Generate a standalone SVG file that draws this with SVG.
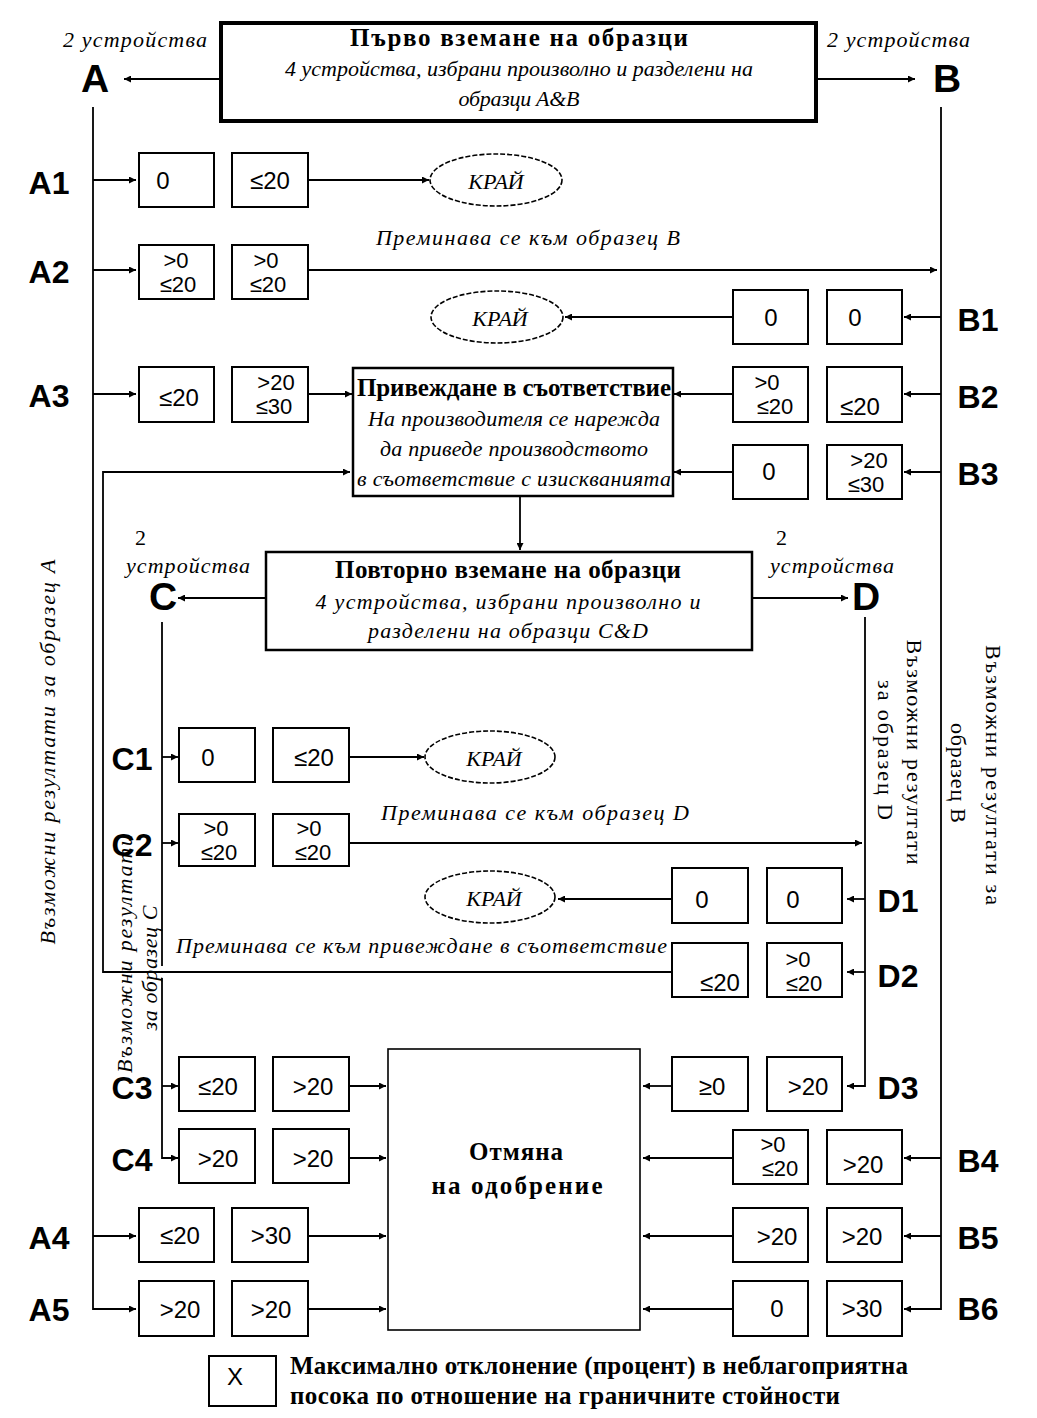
<svg xmlns="http://www.w3.org/2000/svg" width="1037" height="1418" viewBox="0 0 1037 1418">
<style>
.bg{fill:#fff}
.box{fill:#fff;stroke:#000;stroke-width:2}
.frame{fill:#fff;stroke:#000}
.end{fill:#fff;stroke:#000;stroke-width:1.6;stroke-dasharray:5 2}
.ln{fill:none;stroke:#000;stroke-width:1.8}
.lbl{font-family:"Liberation Sans",Arial,sans-serif;font-weight:bold;font-size:32px;text-anchor:middle;fill:#000}
.big{font-size:39px}
.num{font-family:"Liberation Sans",Arial,sans-serif;font-size:24px;text-anchor:middle;fill:#000}
.n2{font-size:22px}
.it{font-family:"Liberation Serif","Times New Roman",serif;font-style:italic;font-size:22px;fill:#000}
.rm{font-family:"Liberation Serif","Times New Roman",serif;font-size:22px;fill:#000}
.bt{font-family:"Liberation Serif","Times New Roman",serif;font-weight:bold;font-size:25px;fill:#000}
.mid{text-anchor:middle}
</style>
<defs>
<marker id="ah" viewBox="0 0 10 10" refX="10" refY="5" markerWidth="9" markerHeight="7" markerUnits="userSpaceOnUse" orient="auto"><path d="M0,0 L10,5 L0,10 z" fill="#000"/></marker>
</defs>
<rect class="bg" x="0" y="0" width="1037" height="1418"/>

<g id="connectors">
<path class="ln" d="M220,79 H124" marker-end="url(#ah)"/>
<path class="ln" d="M817,79 H915" marker-end="url(#ah)"/>
<path class="ln" d="M93,107 V1309 H136" marker-end="url(#ah)"/>
<path class="ln" d="M93,180 H136" marker-end="url(#ah)"/>
<path class="ln" d="M93,270 H136" marker-end="url(#ah)"/>
<path class="ln" d="M93,394 H136" marker-end="url(#ah)"/>
<path class="ln" d="M93,1236 H136" marker-end="url(#ah)"/>
<path class="ln" d="M941,107 V1309 H904" marker-end="url(#ah)"/>
<path class="ln" d="M941,317 H904" marker-end="url(#ah)"/>
<path class="ln" d="M941,394 H904" marker-end="url(#ah)"/>
<path class="ln" d="M941,472 H904" marker-end="url(#ah)"/>
<path class="ln" d="M941,1158 H904" marker-end="url(#ah)"/>
<path class="ln" d="M941,1236 H904" marker-end="url(#ah)"/>
<path class="ln" d="M308,180 H429" marker-end="url(#ah)"/>
<path class="ln" d="M308,270 H937" marker-end="url(#ah)"/>
<path class="ln" d="M733,317 H565" marker-end="url(#ah)"/>
<path class="ln" d="M308,394 H352" marker-end="url(#ah)"/>
<path class="ln" d="M733,394 H674" marker-end="url(#ah)"/>
<path class="ln" d="M733,472 H674" marker-end="url(#ah)"/>
<path class="ln" d="M520,497 V550" marker-end="url(#ah)"/>
<path class="ln" d="M265,598 H178" marker-end="url(#ah)"/>
<path class="ln" d="M752,598 H848" marker-end="url(#ah)"/>
<path class="ln" d="M162,622 V966"/>
<path class="ln" d="M162,978 V1158 H178" marker-end="url(#ah)"/>
<path class="ln" d="M162,757 H178" marker-end="url(#ah)"/>
<path class="ln" d="M162,843 H178" marker-end="url(#ah)"/>
<path class="ln" d="M162,1086 H178" marker-end="url(#ah)"/>
<path class="ln" d="M865,617 V1086 H847" marker-end="url(#ah)"/>
<path class="ln" d="M865,899 H847" marker-end="url(#ah)"/>
<path class="ln" d="M865,972 H847" marker-end="url(#ah)"/>
<path class="ln" d="M349,757 H424" marker-end="url(#ah)"/>
<path class="ln" d="M349,843 H862" marker-end="url(#ah)"/>
<path class="ln" d="M672,899 H558" marker-end="url(#ah)"/>
<path class="ln" d="M672,972 H103 V472 H350" marker-end="url(#ah)"/>
<path class="ln" d="M349,1086 H386" marker-end="url(#ah)"/>
<path class="ln" d="M349,1158 H386" marker-end="url(#ah)"/>
<path class="ln" d="M308,1236 H386" marker-end="url(#ah)"/>
<path class="ln" d="M308,1309 H386" marker-end="url(#ah)"/>
<path class="ln" d="M672,1086 H643" marker-end="url(#ah)"/>
<path class="ln" d="M733,1158 H643" marker-end="url(#ah)"/>
<path class="ln" d="M733,1236 H643" marker-end="url(#ah)"/>
<path class="ln" d="M733,1309 H643" marker-end="url(#ah)"/>
</g>

<g id="first-sampling">
<rect class="frame" x="221" y="23" width="595" height="98" stroke-width="4"/>
<text class="bt mid" x="519" y="46" textLength="338" lengthAdjust="spacing">Първо вземане на образци</text>
<text class="it mid" x="519" y="76" textLength="468" lengthAdjust="spacing">4 устройства, избрани произволно и разделени на</text>
<text class="it mid" x="519" y="106" textLength="121" lengthAdjust="spacing">образци A&amp;B</text>
</g>
<g id="A">
<text class="it" x="63" y="47" textLength="144" lengthAdjust="spacing">2 устройства</text>
<text class="lbl big" x="95" y="92">A</text>
</g>
<g id="B">
<text class="it" x="827" y="47" textLength="143" lengthAdjust="spacing">2 устройства</text>
<text class="lbl big" x="947" y="92">B</text>
</g>

<g id="A1">
<text class="lbl" x="49" y="194">A1</text>
<rect class="box" x="139" y="153" width="75" height="54"/><rect class="box" x="232" y="153" width="76" height="54"/>
<text class="num" x="163" y="189">0</text><text class="num" x="270" y="189">≤20</text>
</g>
<g id="end1"><ellipse class="end" cx="496" cy="180" rx="66" ry="26"/><text class="it mid" x="496" y="189" font-size="24">КРАЙ</text></g>

<g id="A2">
<text class="lbl" x="49" y="283">A2</text>
<rect class="box" x="139" y="245" width="75" height="54"/><rect class="box" x="232" y="245" width="76" height="54"/>
<text class="num n2" x="176" y="268">&gt;0</text><text class="num n2" x="178" y="292">≤20</text>
<text class="num n2" x="266" y="268">&gt;0</text><text class="num n2" x="268" y="292">≤20</text>
<text class="it" x="376" y="245" textLength="304" lengthAdjust="spacing">Преминава се към образец B</text>
</g>

<g id="B1">
<text class="lbl" x="978" y="331">B1</text>
<rect class="box" x="733" y="290" width="75" height="54"/><rect class="box" x="827" y="290" width="75" height="54"/>
<text class="num" x="771" y="326">0</text><text class="num" x="855" y="326">0</text>
</g>
<g id="end2"><ellipse class="end" cx="497" cy="317" rx="66" ry="26"/><text class="it mid" x="500" y="326" font-size="24">КРАЙ</text></g>

<g id="A3">
<text class="lbl" x="49" y="407">A3</text>
<rect class="box" x="139" y="367" width="75" height="55"/><rect class="box" x="232" y="367" width="76" height="55"/>
<text class="num" x="179" y="406">≤20</text>
<text class="num n2" x="276" y="390">&gt;20</text><text class="num n2" x="274" y="414">≤30</text>
</g>

<g id="conformity">
<rect class="frame" x="353" y="368" width="320" height="128" stroke-width="2.5"/>
<text class="bt mid" x="514" y="396" font-size="23" textLength="314" lengthAdjust="spacing">Привеждане в съответствие</text>
<text class="it mid" x="514" y="426" textLength="292" lengthAdjust="spacing">На производителя се нарежда</text>
<text class="it mid" x="514" y="456" textLength="268" lengthAdjust="spacing">да приведе производството</text>
<text class="it mid" x="514" y="486" textLength="314" lengthAdjust="spacing">в съответствие с изискванията</text>
</g>

<g id="B2">
<text class="lbl" x="978" y="408">B2</text>
<rect class="box" x="733" y="367" width="75" height="55"/><rect class="box" x="827" y="367" width="75" height="55"/>
<text class="num n2" x="767" y="390">&gt;0</text><text class="num n2" x="775" y="414">≤20</text>
<text class="num" x="860" y="415">≤20</text>
</g>
<g id="B3">
<text class="lbl" x="978" y="485">B3</text>
<rect class="box" x="733" y="445" width="75" height="54"/><rect class="box" x="827" y="445" width="75" height="54"/>
<text class="num" x="769" y="480">0</text>
<text class="num n2" x="869" y="468">&gt;20</text><text class="num n2" x="866" y="492">≤30</text>
</g>

<g id="resampling">
<rect class="frame" x="266" y="552" width="486" height="98" stroke-width="2.5"/>
<text class="bt mid" x="508" y="578" font-size="23" textLength="346" lengthAdjust="spacing">Повторно вземане на образци</text>
<text class="it mid" x="508" y="609" textLength="385" lengthAdjust="spacing">4 устройства, избрани произволно и</text>
<text class="it mid" x="508" y="638" textLength="280" lengthAdjust="spacing">разделени на образци C&amp;D</text>
</g>
<g id="C">
<text class="rm" x="135" y="545">2</text>
<text class="it" x="126" y="573" textLength="124" lengthAdjust="spacing">устройства</text>
<text class="lbl big" x="163" y="610">C</text>
</g>
<g id="D">
<text class="rm" x="776" y="545">2</text>
<text class="it" x="770" y="573" textLength="124" lengthAdjust="spacing">устройства</text>
<text class="lbl big" x="866" y="610">D</text>
</g>

<g id="C1">
<text class="lbl" x="132" y="770">C1</text>
<rect class="box" x="179" y="728" width="76" height="54"/><rect class="box" x="273" y="728" width="76" height="54"/>
<text class="num" x="208" y="766">0</text><text class="num" x="314" y="766">≤20</text>
</g>
<g id="end3"><ellipse class="end" cx="490" cy="757" rx="65" ry="26"/><text class="it mid" x="494" y="766" font-size="24">КРАЙ</text></g>

<g id="C2">
<text class="lbl" x="132" y="856">C2</text>
<rect class="box" x="179" y="814" width="76" height="52"/><rect class="box" x="273" y="814" width="76" height="52"/>
<text class="num n2" x="216" y="836">&gt;0</text><text class="num n2" x="219" y="860">≤20</text>
<text class="num n2" x="309" y="836">&gt;0</text><text class="num n2" x="313" y="860">≤20</text>
<text class="it" x="381" y="820" textLength="308" lengthAdjust="spacing">Преминава се към образец D</text>
</g>

<g id="D1">
<text class="lbl" x="898" y="912">D1</text>
<rect class="box" x="672" y="868" width="76" height="55"/><rect class="box" x="767" y="868" width="75" height="55"/>
<text class="num" x="702" y="908">0</text><text class="num" x="793" y="908">0</text>
</g>
<g id="end4"><ellipse class="end" cx="490" cy="897" rx="65" ry="26"/><text class="it mid" x="494" y="906" font-size="24">КРАЙ</text></g>

<g id="D2">
<text class="lbl" x="898" y="987">D2</text>
<rect class="box" x="672" y="943" width="76" height="54"/><rect class="box" x="767" y="943" width="75" height="54"/>
<text class="num" x="720" y="991">≤20</text>
<text class="num n2" x="798" y="967">&gt;0</text><text class="num n2" x="804" y="991">≤20</text>
<text class="it" x="176" y="953" textLength="491" lengthAdjust="spacing">Преминава се към привеждане в съответствие</text>
</g>

<g id="C3">
<text class="lbl" x="132" y="1099">C3</text>
<rect class="box" x="179" y="1057" width="76" height="54"/><rect class="box" x="273" y="1057" width="76" height="54"/>
<text class="num" x="218" y="1095">≤20</text><text class="num" x="313" y="1095">&gt;20</text>
</g>
<g id="D3">
<text class="lbl" x="898" y="1099">D3</text>
<rect class="box" x="672" y="1057" width="76" height="54"/><rect class="box" x="767" y="1057" width="75" height="54"/>
<text class="num" x="712" y="1095">≥0</text><text class="num" x="808" y="1095">&gt;20</text>
</g>

<g id="cancel">
<rect class="frame" x="388" y="1049" width="252" height="281" stroke-width="1.6"/>
<text class="bt mid" x="516" y="1160" textLength="94" lengthAdjust="spacing">Отмяна</text>
<text class="bt mid" x="517" y="1194" textLength="171" lengthAdjust="spacing">на одобрение</text>
</g>

<g id="C4">
<text class="lbl" x="132" y="1171">C4</text>
<rect class="box" x="179" y="1129" width="76" height="54"/><rect class="box" x="273" y="1129" width="76" height="54"/>
<text class="num" x="218" y="1167">&gt;20</text><text class="num" x="313" y="1167">&gt;20</text>
</g>
<g id="B4">
<text class="lbl" x="978" y="1172">B4</text>
<rect class="box" x="733" y="1130" width="75" height="54"/><rect class="box" x="827" y="1130" width="75" height="54"/>
<text class="num n2" x="773" y="1152">&gt;0</text><text class="num n2" x="780" y="1176">≤20</text>
<text class="num" x="863" y="1173">&gt;20</text>
</g>
<g id="A4">
<text class="lbl" x="49" y="1249">A4</text>
<rect class="box" x="139" y="1208" width="75" height="54"/><rect class="box" x="232" y="1208" width="76" height="54"/>
<text class="num" x="180" y="1244">≤20</text><text class="num" x="271" y="1244">&gt;30</text>
</g>
<g id="B5">
<text class="lbl" x="978" y="1249">B5</text>
<rect class="box" x="733" y="1208" width="75" height="54"/><rect class="box" x="827" y="1208" width="75" height="54"/>
<text class="num" x="777" y="1245">&gt;20</text><text class="num" x="862" y="1245">&gt;20</text>
</g>
<g id="A5">
<text class="lbl" x="49" y="1321">A5</text>
<rect class="box" x="139" y="1281" width="75" height="55"/><rect class="box" x="232" y="1281" width="76" height="55"/>
<text class="num" x="180" y="1318">&gt;20</text><text class="num" x="271" y="1318">&gt;20</text>
</g>
<g id="B6">
<text class="lbl" x="978" y="1320">B6</text>
<rect class="box" x="733" y="1281" width="75" height="55"/><rect class="box" x="827" y="1281" width="75" height="55"/>
<text class="num" x="777" y="1317">0</text><text class="num" x="862" y="1317">&gt;30</text>
</g>

<g id="legend">
<rect class="box" x="209" y="1356" width="67" height="50"/>
<text class="num" x="235" y="1385">X</text>
<text class="bt" x="290" y="1374" font-size="23" textLength="618" lengthAdjust="spacing">Максимално отклонение (процент) в неблагоприятна</text>
<text class="bt" x="290" y="1404" font-size="23" textLength="550" lengthAdjust="spacing">посока по отношение на граничните стойности</text>
</g>

<g id="side-labels">
<text class="it mid" transform="translate(55,752) rotate(-90)" textLength="385" lengthAdjust="spacing">Възможни резултати за образец A</text>
<text class="it mid" transform="translate(132,954) rotate(-90)" textLength="238" lengthAdjust="spacing">Възможни резултати</text>
<text class="it mid" transform="translate(157,968) rotate(-90)" textLength="125" lengthAdjust="spacing">за образец C</text>
<text class="rm mid" transform="translate(907,752) rotate(90)" textLength="225" lengthAdjust="spacing">Възможни резултати</text>
<text class="rm mid" transform="translate(878,750) rotate(90)" textLength="140" lengthAdjust="spacing">за образец D</text>
<text class="rm mid" transform="translate(986,775) rotate(90)" textLength="260" lengthAdjust="spacing">Възможни резултати за</text>
<text class="rm mid" transform="translate(951,773) rotate(90)" textLength="100" lengthAdjust="spacing">образец B</text>
</g>
</svg>
